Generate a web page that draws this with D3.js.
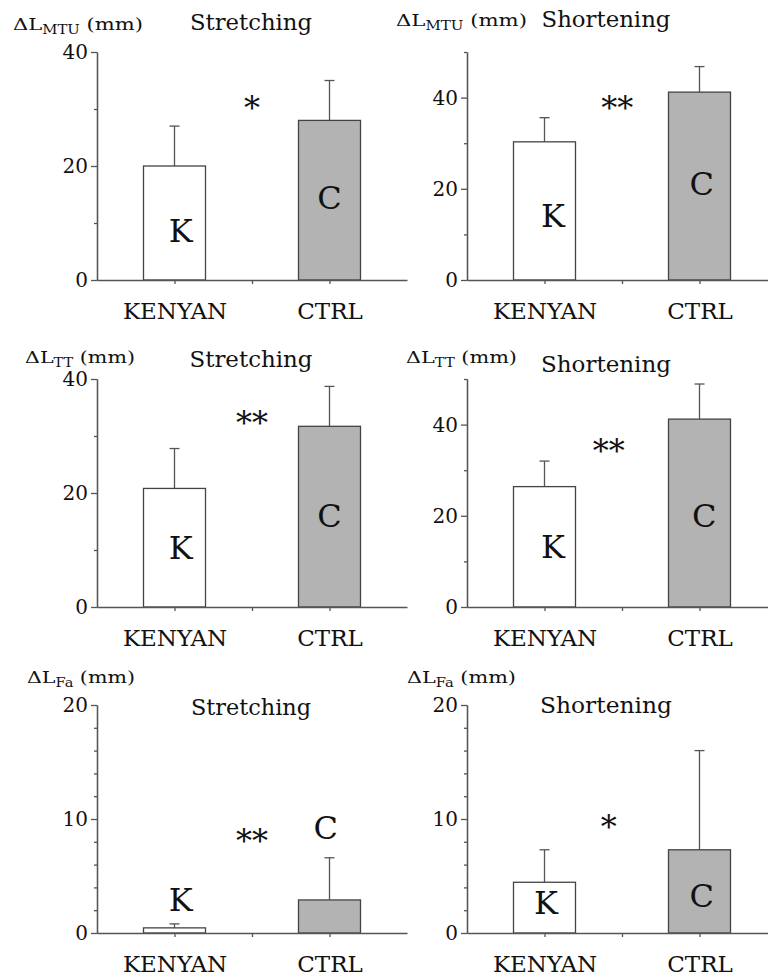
<!DOCTYPE html>
<html>
<head>
<meta charset="utf-8">
<script src="https://cdn.jsdelivr.net/npm/d3@7"></script>
<style>
body{margin:0;background:#fff;}
.axis path,.axis line{stroke:#555;stroke-width:1.3;}
</style>
</head>
<body>
<div id="chart"></div>
<script>
// data, panels in reading order: MTU stretch/short, TT stretch/short, Fa stretch/short
var categories=["KENYAN","CTRL"];
var panelTitles=["Stretching","Shortening","Stretching","Shortening","Stretching","Shortening"];
var yLabelSubs=["MTU","MTU","TT","TT","Fa","Fa"];
var kenyanMeans=[20,30.3,20.8,26.4,0.45,4.45];
var kenyanErrors=[7,5.3,7,5.6,0.35,2.85];
var ctrlMeans=[28,41.2,31.7,41.2,2.9,7.3];
var ctrlErrors=[7,5.6,7,7.7,3.7,8.7];
var yMax=[40,50,40,50,20,20];
var majorTicks=[[0,20,40],[0,20,40],[0,20,40],[0,20,40],[0,10,20],[0,10,20]];
var minorStep=[10,10,10,10,2,2];
var significance=["*","**","**","**","**","*"];
var starPos=[[2,31.6],[1.94,39.5],[2,33.6],[1.83,35.9],[2,8.8],[1.83,10]];
var kLetterPos=[[1.08,8.8],[1.11,14.3],[1.08,10.5],[1.11,13.3],[1.08,3.0],[1.02,2.7]];
var cLetterPos=[[3,14.6],[3.03,21.3],[3,16.1],[3.06,20.1],[2.95,9.3],[3.03,3.3]];
var barPos=[1,3];

// layout
var colX=[97,467];
var rowY0=[280,607,933];
var plotH=228,axisW=310,barW=0.8;
var titleX=[251,606];
var titleY=[30,27,367,372,715,713];
var titleW=[122,129,123,130,120,132];
var labelX=[13,396,25,406,27,407];
var labelY=[30,26,363,363,683,683];
var labelW=[130,131,110,111,108,109];
var fills=["#ffffff","#b3b3b3"];
var serif='"DejaVu Serif",serif';

var svg=d3.select("#chart")
    .append("svg")
    .attr("width",768)
    .attr("height",980)
    .style("display","block");

panelTitles.forEach(function(title,i){
    var ox=colX[i%2],y0=rowY0[Math.floor(i/2)];
    var x=d3.scaleLinear().domain([0,4]).range([ox,ox+axisW]);
    var y=d3.scaleLinear().domain([0,yMax[i]]).range([y0,y0-plotH]);
    var g=svg.append("g");

    var bars=categories.map(function(c,j){
        return {cat:c,pos:barPos[j],
            mean:j===0?kenyanMeans[i]:ctrlMeans[i],
            err:j===0?kenyanErrors[i]:ctrlErrors[i],
            fill:fills[j]};
    });

    // error bars
    g.selectAll(".err")
        .data(bars)
        .enter()
        .append("line")
        .attr("x1",function(d){return x(d.pos);})
        .attr("x2",function(d){return x(d.pos);})
        .attr("y1",function(d){return y(d.mean);})
        .attr("y2",function(d){return y(d.mean+d.err);})
        .attr("stroke","#555").attr("stroke-width",1.3);
    g.selectAll(".cap")
        .data(bars)
        .enter()
        .append("line")
        .attr("x1",function(d){return x(d.pos)-5;})
        .attr("x2",function(d){return x(d.pos)+5;})
        .attr("y1",function(d){return y(d.mean+d.err);})
        .attr("y2",function(d){return y(d.mean+d.err);})
        .attr("stroke","#555").attr("stroke-width",1.3);

    g.selectAll("rect")
        .data(bars)
        .enter()
        .append("rect")
        .attr("x",function(d){return x(d.pos-barW/2);})
        .attr("width",function(d){return x(d.pos+barW/2)-x(d.pos-barW/2);})
        .attr("y",function(d){return y(d.mean);})
        .attr("height",function(d){return y(0)-y(d.mean);})
        .attr("fill",function(d){return d.fill;})
        .attr("stroke","#444")
        .attr("stroke-width",1.3);

    // axes
    var minor=d3.range(0,yMax[i]+0.001,minorStep[i]).filter(function(v){
        return majorTicks[i].indexOf(v)<0;
    });
    g.append("g")
        .attr("class","axis")
        .attr("transform","translate("+ox+",0)")
        .call(d3.axisLeft(y).tickValues(minor).tickSize(3).tickSizeOuter(0).tickFormat(""));
    g.append("g")
        .attr("class","axis")
        .attr("transform","translate("+ox+",0)")
        .call(d3.axisLeft(y).tickValues(majorTicks[i]).tickSize(6).tickPadding(3).tickSizeOuter(0))
        .attr("font-family",serif)
        .attr("font-size",20);
    g.append("g")
        .attr("class","axis")
        .attr("transform","translate(0,"+y0+")")
        .call(d3.axisBottom(x).tickValues([1,2,3]).tickSize(4).tickSizeOuter(0).tickPadding(19)
            .tickFormat(function(d){var k=barPos.indexOf(d);return k<0?"":categories[k];}))
        .attr("font-family",serif)
        .attr("font-size",23);
    g.selectAll(".axis text").attr("fill","#111");

    // letters in bars
    [["K",kLetterPos[i]],["C",cLetterPos[i]]].forEach(function(l){
        g.append("text")
            .attr("x",x(l[1][0]))
            .attr("y",y(l[1][1])+12)
            .attr("text-anchor","middle")
            .attr("font-family",serif)
            .attr("font-size",32)
            .attr("fill","#111")
            .text(l[0]);
    });

    // significance
    g.append("text")
        .attr("x",x(starPos[i][0]))
        .attr("y",y(starPos[i][1])+19)
        .attr("text-anchor","middle")
        .attr("font-family",serif)
        .attr("font-size",32)
        .attr("fill","#111")
        .text(significance[i]);

    // title
    g.append("text")
        .attr("x",titleX[i%2])
        .attr("y",titleY[i])
        .attr("text-anchor","middle")
        .attr("textLength",titleW[i])
        .attr("lengthAdjust","spacingAndGlyphs")
        .attr("font-family",serif)
        .attr("font-size",23)
        .attr("fill","#111")
        .text(title);

    // y label
    var lab=g.append("text")
        .attr("x",labelX[i])
        .attr("y",labelY[i])
        .attr("textLength",labelW[i])
        .attr("lengthAdjust","spacingAndGlyphs")
        .attr("font-family",serif)
        .attr("font-size",17)
        .attr("fill","#111");
    lab.append("tspan").text("\u0394L");
    lab.append("tspan").attr("dy",4).attr("font-size",12).text(yLabelSubs[i]);
    lab.append("tspan").attr("dy",-4).text(" (mm)");
});
</script>
</body>
</html>
